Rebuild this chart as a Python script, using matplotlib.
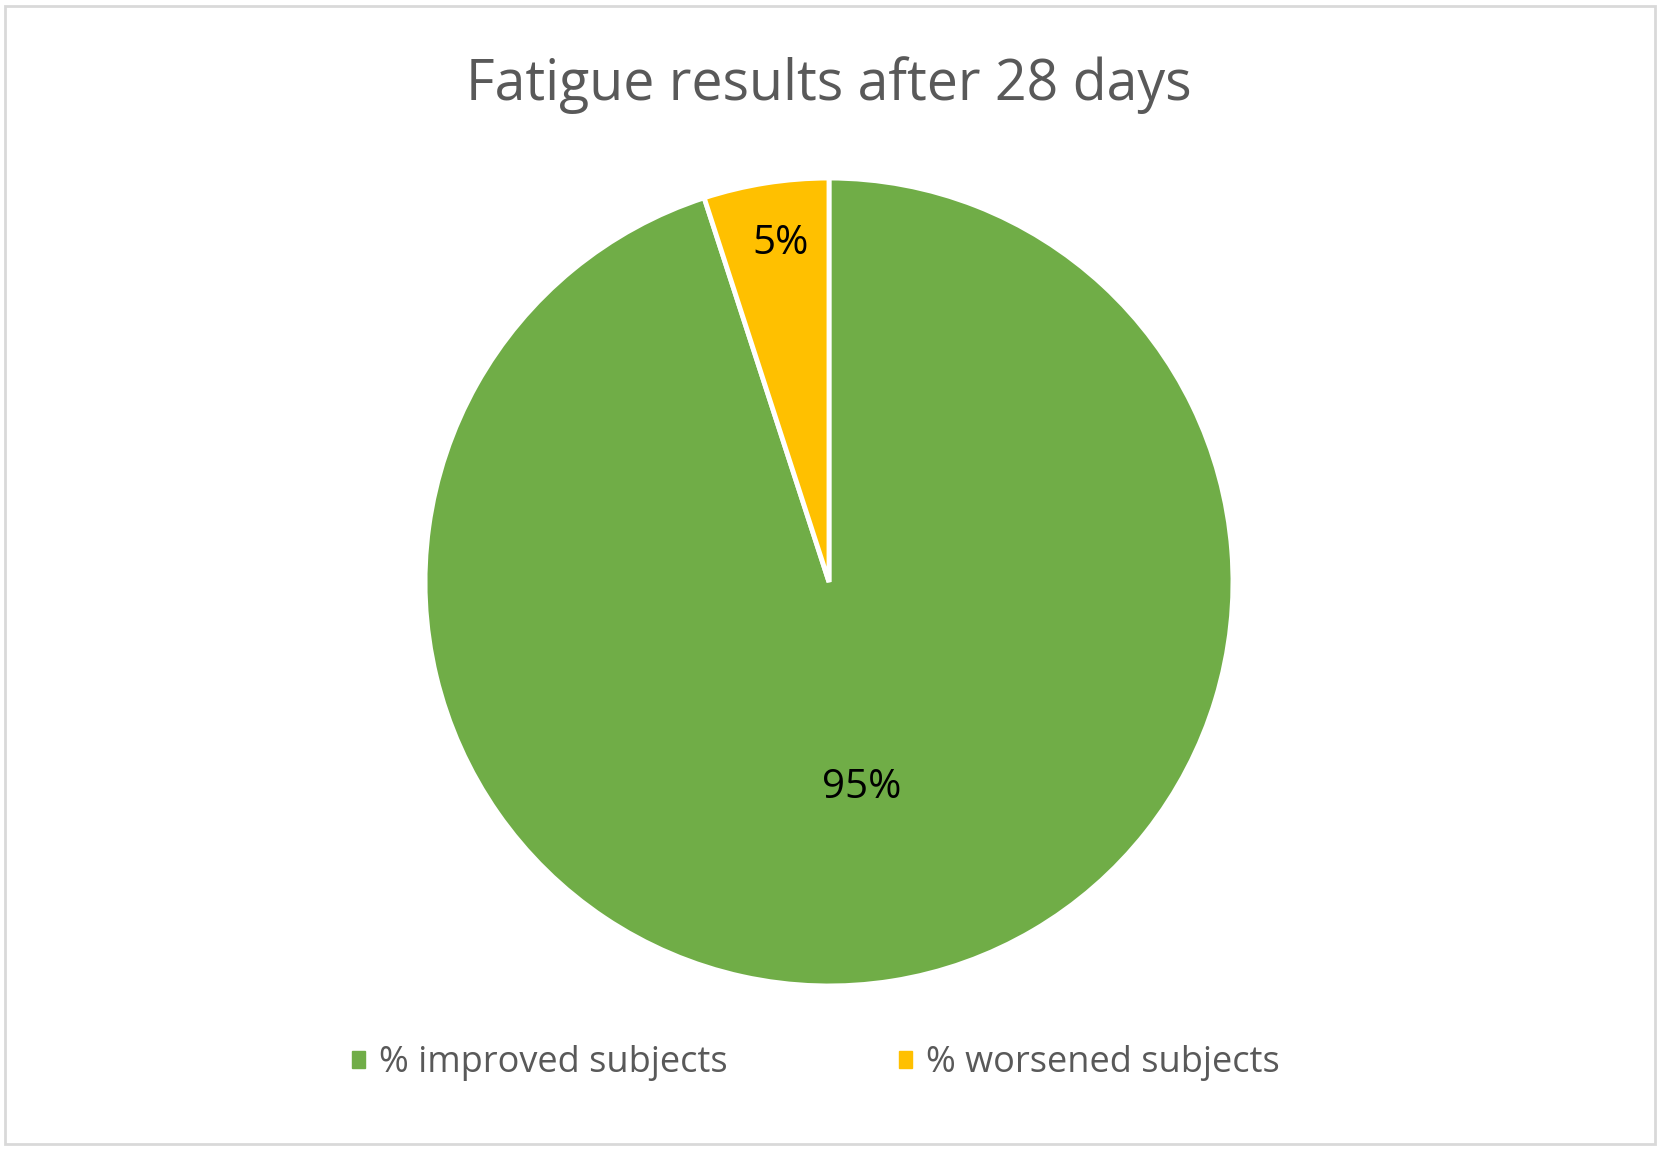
import numpy as np
import matplotlib.pyplot as plt
from matplotlib.patches import Patch, Rectangle

# data
categories = ['% improved subjects', '% worsened subjects']
values = [95, 5]
colors = ['#70AD47', '#FFC000']
label_dist = [0.515, 0.845]  # radial position of the percent labels
label_shift = [0.0, -0.8]    # small angular nudge (deg) of the labels

W, H = 1663, 1150
fig = plt.figure(figsize=(W / 100, H / 100), dpi=100)
fig.patch.set_facecolor('white')

# light grey frame around the chart area
fig.add_artist(Rectangle((5 / W, 6 / H), 1650 / W, 1138 / H, transform=fig.transFigure,
                         fill=False, edgecolor='#D9D9D9', linewidth=2))

fig.text(829 / W, 1 - 85 / H, 'Fatigue results after 28 days', ha='center', va='center',
         fontsize=40, color='#595959', family='Open Sans')

cx, cy, r = 829, 582, 408
ax = fig.add_axes([(cx - r) / W, (H - cy - r) / H, 2 * r / W, 2 * r / H])
wedges, _ = ax.pie(values, colors=colors, startangle=90, counterclock=False, radius=1,
                   wedgeprops=dict(edgecolor='white', linewidth=3.5))
ax.set_xlim(-1.01, 1.01)
ax.set_ylim(-1.01, 1.01)
ax.set_aspect('equal')
ax.axis('off')

for w, v, d, s in zip(wedges, values, label_dist, label_shift):
    ang = np.deg2rad((w.theta1 + w.theta2) / 2 + s)
    ax.text(d * np.cos(ang), d * np.sin(ang), f'{v}%', ha='center', va='center',
            fontsize=29, color='black', family='Open Sans')

handles = [Patch(facecolor=c, edgecolor=c) for c in colors]
fig.legend(handles, categories, loc='center', bbox_to_anchor=(816 / W, 1 - 1063 / H), ncol=2,
           frameon=False, handlelength=0.35, handleheight=0.35, handletextpad=0.4,
           columnspacing=4.75, prop=dict(family='Open Sans', size=26), labelcolor='#595959')

fig.savefig('out.png', dpi=100)
